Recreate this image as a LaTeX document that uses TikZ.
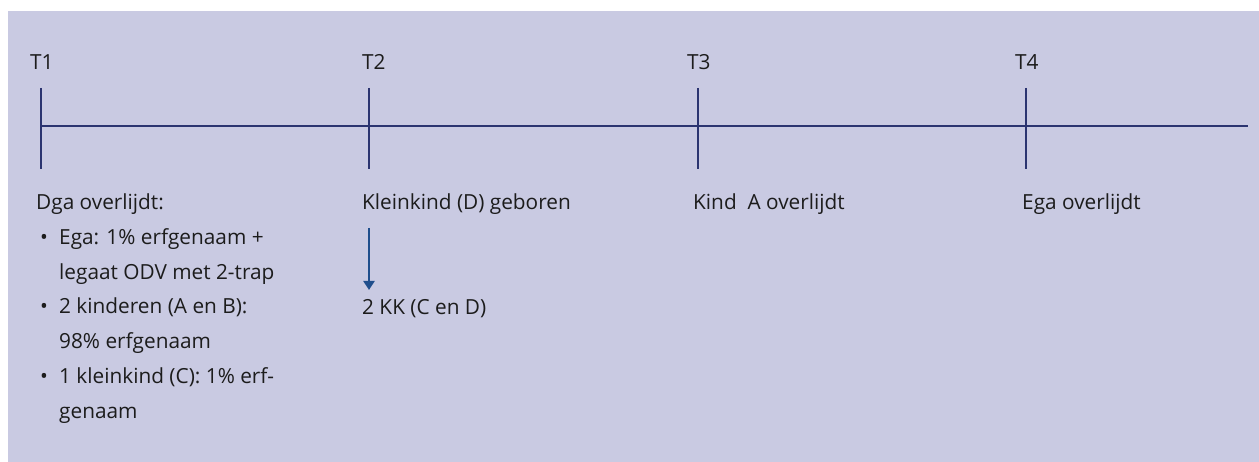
\documentclass[tikz,border=0pt]{standalone}
\usepackage{fontspec}
\setmainfont{Open Sans}
\usetikzlibrary{arrows.meta}
\definecolor{bgc}{RGB}{201,202,226}
\definecolor{navy}{RGB}{43,52,112}
\definecolor{arrc}{RGB}{31,78,140}
\definecolor{txt}{RGB}{28,28,28}
\tikzset{
  lbl/.style={anchor=base west, inner sep=0pt, text=txt, font=\fontsize{20.8}{24}\selectfont},
  tline/.style={draw=navy, line width=2.6pt},
  tick/.style={draw=navy, line width=2.4pt},
  arr/.style={draw=arrc, line width=2.2pt, -{Triangle[width=11pt,length=9pt]}}
}
\begin{document}
\begin{tikzpicture}[x=1pt,y=1pt]
\useasboundingbox (0,0) rectangle (1259,-462);
\fill[bgc] (8,-11) rectangle (1259,-462);
% timeline
\coordinate (ls) at (41,-126);
\coordinate (le) at (1248,-126);
\draw[tline] (ls) -- (le);
\foreach \n/\x in {1/41,2/369,3/698,4/1026}{
  \coordinate (t\n top) at (\x,-88);
  \coordinate (t\n bot) at (\x,-169);
  \draw[tick] (t\n top) -- (t\n bot);
}
% T labels
\node[lbl] (T1) at (30,-70) {T1};
\node[lbl] (T2) at (362,-70) {T2};
\node[lbl] (T3) at (687,-70) {T3};
\node[lbl] (T4) at (1015,-70) {T4};
% column 1
\node[lbl] (c1r1) at (36,-210) {Dga overlijdt:};
\node[lbl] (b1) at (40,-245) {•};
\node[lbl] (c1r2) at (59,-245) {Ega: 1\% erfgenaam +};
\node[lbl] (c1r3) at (59,-280) {legaat ODV met 2-trap};
\node[lbl] (b2) at (40,-314) {•};
\node[lbl] (c1r4) at (59,-314) {2 kinderen (A en B):};
\node[lbl] (c1r5) at (59,-349) {98\% erfgenaam};
\node[lbl] (b3) at (40,-384) {•};
\node[lbl] (c1r6) at (59,-384) {1 kleinkind (C): 1\% erf-};
\node[lbl] (c1r7) at (59,-418) {genaam};
% column 2
\node[lbl] (kd) at (362,-210) {Kleinkind (D) geboren};
\node[lbl] (kk) at (362,-315) {2 KK (C en D)};
\coordinate (a1) at (369,-228);
\coordinate (a2) at (369,-290);
\draw[arr] (a1) -- (a2);
% column 3
\node[lbl] (ka) at (693,-210) {Kind\ \ A overlijdt};
% column 4
\node[lbl] (eo) at (1022,-210) {Ega overlijdt};
\end{tikzpicture}
\end{document}
